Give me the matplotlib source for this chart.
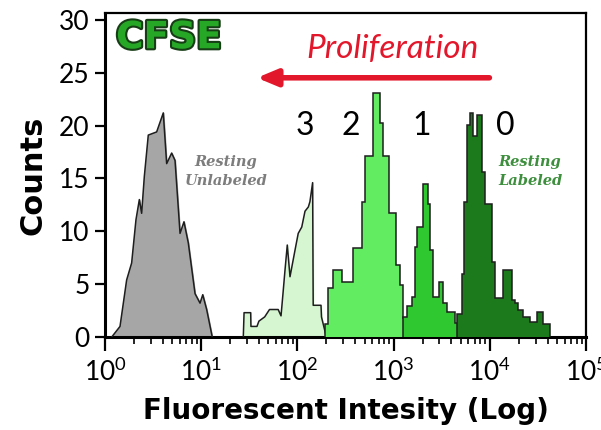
import matplotlib
matplotlib.use('Agg')
import matplotlib.pyplot as plt
import matplotlib.patheffects as pe
import numpy as np

# resting unlabeled cells (smooth trace)
unlab_x = [1.175, 1.432, 1.679, 1.892, 2.099, 2.275, 2.404, 2.564, 2.818, 3.443, 4.036,
           4.375, 4.932, 5.346, 6.026, 6.622, 7.345, 8.630, 9.727, 10.38, 11.40, 13.03]
unlab_y = [0, 1.0, 5.4, 7.0, 11.1, 13.0, 11.7, 15.2, 19.1, 19.4, 21.2,
           16.4, 17.4, 16.7, 9.8, 10.9, 8.9, 4.1, 3.2, 4.0, 2.6, 0]

# generation 3
gen3_x = [27.4, 27.9, 32.7, 32.9, 38.0, 39.8, 45.7, 51.3, 63.1, 67.6, 71.3, 74.3, 78.5,
          83.8, 94.4, 102, 111, 120, 130, 135, 144, 146, 176, 178, 200]
gen3_y = [0, 2.3, 2.3, 1.0, 1.0, 1.5, 1.9, 2.6, 2.6, 2.0, 4.4, 6.3, 8.7,
          5.7, 8.2, 9.8, 10.4, 11.9, 12.3, 12.8, 14.6, 3.0, 3.0, 1.9, 0]

# generation 2
gen2_edges = [195, 209, 236, 289, 381, 466, 505, 615, 723, 782, 902, 1059, 1167, 1259, 1380]
gen2_counts = [1.2, 4.6, 6.3, 5.2, 8.4, 12.8, 17.1, 23.1, 20.2, 17.1, 11.7, 6.8, 4.9, 1.8]

# generation 1
gen1_edges = [1262, 1365, 1542, 1667, 1762, 2037, 2296, 2388, 2588, 2985, 3289, 3565, 4345, 5309, 6223]
gen1_counts = [1.9, 2.9, 3.8, 8.5, 10.4, 14.5, 12.6, 8.2, 3.8, 5.2, 3.2, 2.4, 1.3, 0.7]

# generation 0 (resting labeled)
gen0_edges = [4529, 5105, 5395, 5754, 6223, 6730, 7311, 8241, 8913, 10471, 11324, 13804,
              16904, 18281, 19770, 22284, 26182, 31189, 35975, 42267]
gen0_counts = [2.2, 6.0, 12.8, 20.1, 21.2, 19.0, 21.0, 15.6, 12.6, 7.1, 3.7, 6.3,
               3.5, 3.2, 2.6, 1.9, 1.4, 2.4, 1.2]

gen_labels = ['3', '2', '1', '0']
gen_label_x = [120, 360, 1980, 14400]
gen_label_y = 20.0

plt.rcParams['font.family'] = ['Lato', 'DejaVu Sans']
plt.rcParams['mathtext.fontset'] = 'custom'
plt.rcParams['mathtext.rm'] = 'Lato'
plt.rcParams['mathtext.it'] = 'Lato'

fig = plt.figure(figsize=(6.01, 4.30), dpi=100)
ax = fig.add_axes([0.1747, 0.2163, 0.8003, 0.7535])

edge = '#1e1e1e'
lw = 1.1

ax.fill_between(unlab_x, unlab_y, color='#a6a6a6', zorder=2)
ax.plot(unlab_x, unlab_y, color=edge, lw=lw, zorder=3)

ax.fill_between(gen3_x, gen3_y, color='#d5f6d0', zorder=2)
ax.plot(gen3_x, gen3_y, color=edge, lw=lw, zorder=3)

ax.stairs(gen2_counts, gen2_edges, fill=True, color='#62ec62', zorder=4)
ax.stairs(gen2_counts, gen2_edges, color=edge, lw=lw, zorder=5)

ax.stairs(gen1_counts, gen1_edges, fill=True, color='#30c830', zorder=6)
ax.stairs(gen1_counts, gen1_edges, color=edge, lw=lw, zorder=7)

ax.stairs(gen0_counts, gen0_edges, fill=True, color='#1c7a1c', zorder=8)
ax.stairs(gen0_counts, gen0_edges, color=edge, lw=lw, zorder=9)

ax.set_xscale('log')
ax.set_xlim(1, 1e5)
ax.set_ylim(0, 30.65)
ax.set_yticks([0, 5, 10, 15, 20, 25, 30])
ax.set_xticks([1, 10, 100, 1e3, 1e4, 1e5])
ax.set_xticklabels([r'$10^{%d}$' % i for i in range(6)])

ax.tick_params(axis='both', which='major', labelsize=19, width=1.6, direction='out')
ax.tick_params(axis='y', length=7, pad=4)
ax.tick_params(axis='x', which='major', length=10, pad=5)
ax.tick_params(axis='x', which='minor', length=5, width=1.2, direction='out')

for s in ['left', 'bottom']:
    ax.spines[s].set_linewidth(2.2)
for s in ['top', 'right']:
    ax.spines[s].set_linewidth(1.6)

ax.set_ylabel('Counts', fontsize=22, fontweight='bold', family='DejaVu Sans', labelpad=8)
ax.set_xlabel('Fluorescent Intesity (Log)', fontsize=20, fontweight='bold',
              family='DejaVu Sans', labelpad=8)

# titles and annotations
ax.text(0.133, 0.922, 'CFSE', transform=ax.transAxes, ha='center', va='center',
        fontsize=27, fontweight='heavy', family='DejaVu Sans', color='#26a826',
        path_effects=[pe.withStroke(linewidth=3, foreground='#173d17')])

ax.text(0.597, 0.89, 'Proliferation', transform=ax.transAxes, ha='center', va='center',
        fontsize=24, style='italic', color='#e3172b')
ax.annotate('', xy=(0.31, 0.80), xytext=(0.805, 0.80), xycoords='axes fraction',
            arrowprops=dict(arrowstyle='-|>,head_length=1.2,head_width=0.5',
                            color='#e3172b', lw=4))

for lab, xv in zip(gen_labels, gen_label_x):
    ax.text(xv, gen_label_y, lab, ha='center', va='center', fontsize=23, color='black',
            zorder=10)

ax.text(0.252, 0.51, 'Resting\nUnlabeled', transform=ax.transAxes, ha='center',
        va='center', fontsize=10.5, style='italic', fontweight='bold',
        family='DejaVu Serif', color='#7d7d7d', linespacing=1.45)
ax.text(0.884, 0.51, 'Resting\nLabeled', transform=ax.transAxes, ha='center',
        va='center', fontsize=10.5, style='italic', fontweight='bold',
        family='DejaVu Serif', color='#3d8f3d', linespacing=1.45)

fig.savefig('out.png', dpi=100)
